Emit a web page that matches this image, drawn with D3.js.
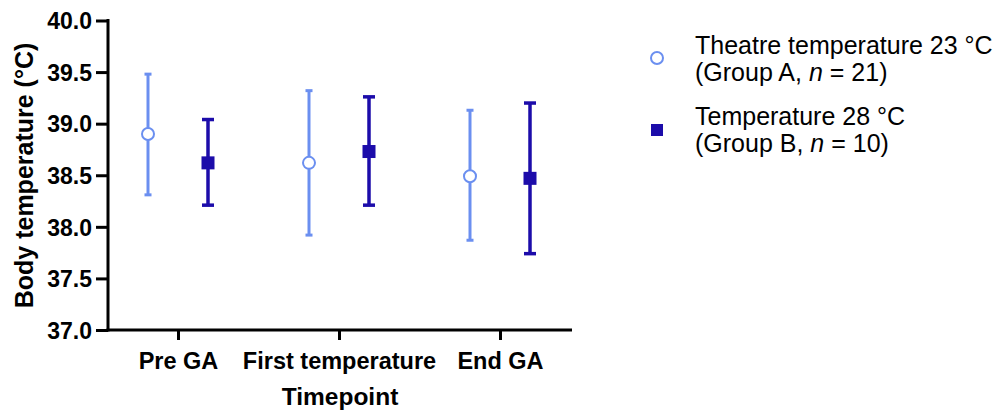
<!DOCTYPE html>
<html>
<head>
<meta charset="utf-8">
<script src="https://cdn.jsdelivr.net/npm/d3@7"></script>
<style>
  body { margin: 0; background: #fff; }
  text { font-family: "Liberation Sans", Arial, sans-serif; }
</style>
</head>
<body>
<svg id="chart" width="997" height="411"></svg>
<script>
// data (mean with error bar low/high)
const timepoints = ["Pre GA", "First temperature", "End GA"];
const groupAMean = [38.90, 38.62, 38.49];
const groupALow  = [38.31, 37.92, 37.87];
const groupAHigh = [39.48, 39.32, 39.13];
const groupBMean = [38.62, 38.73, 38.47];
const groupBLow  = [38.21, 38.21, 37.74];
const groupBHigh = [39.04, 39.26, 39.20];
const yTicks = [37.0, 37.5, 38.0, 38.5, 39.0, 39.5, 40.0];
const legendLabels = [
  ["Theatre temperature 23 °C", "(Group A, ", "n", " = 21)"],
  ["Temperature 28 °C", "(Group B, ", "n", " = 10)"]
];

const colA = "#6b8ff0", colB = "#1c0caa";

const svg = d3.select("#chart");

const axisLeftX = 108, axisRightX = 572;

const y = d3.scaleLinear().domain([37, 40]).range([330, 20.5]);
const x = d3.scalePoint().domain(timepoints).range([178, 500]);
const offset = 30;

// y axis
const yAxis = svg.append("g")
  .attr("transform", `translate(${axisLeftX},0)`)
  .call(d3.axisLeft(y).tickValues(yTicks).tickFormat(d3.format(".1f")).tickSize(12).tickPadding(4));
yAxis.select(".domain").remove();
yAxis.append("line")
  .attr("x1", 0).attr("x2", 0)
  .attr("y1", y(40) - 1.5).attr("y2", y(37) + 1.5)
  .attr("stroke", "#000").attr("stroke-width", 3);
yAxis.selectAll(".tick line").attr("stroke", "#000").attr("stroke-width", 3);
yAxis.selectAll(".tick text")
  .attr("fill", "#000")
  .style("font-size", "23px").style("font-weight", "bold")
  .attr("dy", "0.36em");

// x axis
const xAxis = svg.append("g")
  .attr("transform", `translate(0,${y(37)})`)
  .call(d3.axisBottom(x).tickSize(10).tickPadding(12));
xAxis.select(".domain").remove();
xAxis.append("line")
  .attr("x1", axisLeftX - 1.5).attr("x2", axisRightX)
  .attr("y1", 0).attr("y2", 0)
  .attr("stroke", "#000").attr("stroke-width", 3);
xAxis.selectAll(".tick line").attr("stroke", "#000").attr("stroke-width", 3);
xAxis.selectAll(".tick text")
  .attr("fill", "#000")
  .style("font-size", "23.5px").style("font-weight", "bold");

// axis titles
svg.append("text")
  .attr("transform", `translate(33,${(43 + 308) / 2}) rotate(-90)`)
  .attr("text-anchor", "middle")
  .style("font-size", "25px").style("font-weight", "bold")
  .text("Body temperature (°C)");

svg.append("text")
  .attr("x", 340).attr("y", 405)
  .attr("text-anchor", "middle")
  .style("font-size", "24.5px").style("font-weight", "bold")
  .text("Timepoint");

// error bars
function drawGroup(means, lows, highs, dx, color, capW, sw, filled) {
  const g = svg.append("g");
  const data = timepoints.map((t, i) => ({ t, m: means[i], lo: lows[i], hi: highs[i] }));
  const bars = g.selectAll("g.bar").data(data).enter().append("g")
    .attr("transform", d => `translate(${x(d.t) + dx},0)`);
  bars.append("line")
    .attr("y1", d => y(d.hi)).attr("y2", d => y(d.lo))
    .attr("stroke", color).attr("stroke-width", sw);
  bars.selectAll("line.cap").data(d => [d.hi, d.lo]).enter().append("line")
    .attr("x1", -capW / 2).attr("x2", capW / 2)
    .attr("y1", d => y(d)).attr("y2", d => y(d))
    .attr("stroke", color).attr("stroke-width", sw);
  if (filled) {
    bars.append("rect")
      .attr("x", -6.5).attr("y", d => y(d.m) - 6.5)
      .attr("width", 13).attr("height", 13)
      .attr("fill", color);
  } else {
    bars.append("circle")
      .attr("cy", d => y(d.m)).attr("r", 6)
      .attr("fill", "#fff").attr("stroke", color).attr("stroke-width", 2);
  }
}
drawGroup(groupAMean, groupALow, groupAHigh, -offset, colA, 7, 3, false);
drawGroup(groupBMean, groupBLow, groupBHigh, offset, colB, 12, 3.5, true);

// legend
const legend = svg.append("g");
const legendY = [54, 125];
legendLabels.forEach((lab, i) => {
  const by = legendY[i];
  if (i === 0) {
    legend.append("circle").attr("cx", 657).attr("cy", 58).attr("r", 6)
      .attr("fill", "#fff").attr("stroke", colA).attr("stroke-width", 2);
  } else {
    legend.append("rect").attr("x", 651).attr("y", 124).attr("width", 12).attr("height", 12)
      .attr("fill", colB);
  }
  legend.append("text").attr("x", 695).attr("y", by)
    .style("font-size", "25px").attr("fill", "#000").text(lab[0]);
  const t2 = legend.append("text").attr("x", 695).attr("y", by + 27)
    .style("font-size", "25px").attr("fill", "#000");
  t2.append("tspan").text(lab[1]);
  t2.append("tspan").style("font-style", "italic").text(lab[2]);
  t2.append("tspan").text(lab[3]);
});
</script>
</body>
</html>
